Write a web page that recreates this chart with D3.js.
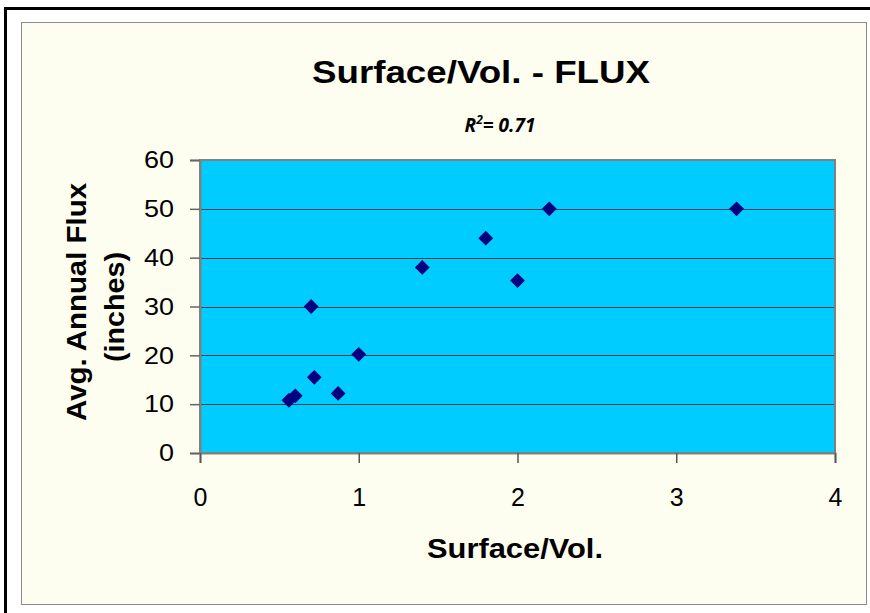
<!DOCTYPE html>
<html><head><meta charset="utf-8">
<script src="https://cdn.jsdelivr.net/npm/d3@7"></script>
<style>html,body{margin:0;padding:0;background:#fff;}svg{display:block;}</style>
</head><body>
<svg id="c" width="870" height="613"></svg>
<script>
const xValues = [0.56, 0.60, 0.70, 0.72, 0.87, 1.00, 1.40, 1.80, 2.00, 2.20, 3.38];
const yValues = [10.8, 11.7, 30.0, 15.5, 12.2, 20.2, 38.0, 44.0, 35.3, 50.0, 50.0];
const xTicks = [0, 1, 2, 3, 4];
const yTicks = [0, 10, 20, 30, 40, 50, 60];
const title = "Surface/Vol. - FLUX";
const xTitle = "Surface/Vol.";
const yTitle = ["Avg. Annual Flux", "(inches)"];

const FONT = "Liberation Sans, Arial, sans-serif";
const svg = d3.select("#c");
// outer frame
svg.append("rect").attr("x", 5.5).attr("y", 8.5).attr("width", 880).attr("height", 620)
  .attr("fill", "#fff").attr("stroke", "#000").attr("stroke-width", 3);
// chart area
svg.append("rect").attr("x", 21.5).attr("y", 22.5).attr("width", 845).attr("height", 582)
  .attr("fill", "#FEFEF0").attr("stroke", "#8a8a8a").attr("stroke-width", 1);

const L = 200, R = 835, T = 160, B = 453;
const x = d3.scaleLinear().domain([0, 4]).range([L, R]);
const y = d3.scaleLinear().domain([0, 60]).range([B, T]);

svg.append("rect").attr("x", L).attr("y", T).attr("width", R - L).attr("height", B - T)
  .attr("fill", "#00CCFF");
// gridlines
svg.append("g").selectAll("line").data(yTicks.filter(d => d > 0 && d < 60)).join("line")
  .attr("x1", L).attr("x2", R).attr("y1", d => Math.round(y(d)) + 0.5).attr("y2", d => Math.round(y(d)) + 0.5)
  .attr("stroke", "#15404f").attr("stroke-width", 1.2);
// plot border
svg.append("rect").attr("x", L).attr("y", T).attr("width", R - L).attr("height", B - T)
  .attr("fill", "none").attr("stroke", "#808080").attr("stroke-width", 2);

// y axis
const yAxis = d3.axisLeft(y).tickValues(yTicks).tickSize(10).tickPadding(16).tickFormat(d3.format("d"));
const gy = svg.append("g").attr("transform", `translate(${L},0)`).call(yAxis);
gy.select(".domain").attr("stroke", "#808080").attr("stroke-width", 2);
gy.selectAll(".tick line").attr("stroke", "#666").attr("stroke-width", 1.5);
gy.selectAll("text").attr("font-family", FONT).attr("font-size", 24).attr("fill", "#000")
  .attr("textLength", d => String(d).length * 15).attr("lengthAdjust", "spacingAndGlyphs");

// x axis
const xAxis = d3.axisBottom(x).tickValues(xTicks).tickSize(10).tickPadding(25).tickFormat(d3.format("d"));
const gx = svg.append("g").attr("transform", `translate(0,${B})`).call(xAxis);
gx.select(".domain").attr("stroke", "#808080").attr("stroke-width", 2);
gx.selectAll(".tick line").attr("stroke", "#555").attr("stroke-width", 1.5);
gx.selectAll("text").attr("font-family", FONT).attr("font-size", 25).attr("fill", "#000");

// points
const pts = xValues.map((v, i) => ({x: v, y: yValues[i]}));
const diamond = d3.symbol().type(d3.symbolSquare).size(110);
svg.append("g").selectAll("path").data(pts).join("path")
  .attr("d", diamond)
  .attr("transform", d => `translate(${x(d.x)},${y(d.y)}) rotate(45)`)
  .attr("fill", "#000080");

// titles
svg.append("text").attr("x", 481).attr("y", 83).attr("text-anchor", "middle")
  .attr("font-family", FONT).attr("font-weight", "bold").attr("font-size", 32)
  .attr("textLength", 338).attr("lengthAdjust", "spacingAndGlyphs")
  .text(title);
const r2 = svg.append("text").attr("x", 500).attr("y", 132).attr("text-anchor", "middle")
  .attr("font-family", "Open Sans, sans-serif").attr("font-weight", "bold").attr("font-style", "italic").attr("font-size", 19);
r2.append("tspan").text("R");
r2.append("tspan").attr("dy", -8).attr("font-size", 12).text("2");
r2.append("tspan").attr("dy", 8).text("= 0.71");

svg.append("text").attr("x", 515).attr("y", 558).attr("text-anchor", "middle")
  .attr("font-family", FONT).attr("font-weight", "bold").attr("font-size", 28)
  .attr("textLength", 176).attr("lengthAdjust", "spacingAndGlyphs")
  .text(xTitle);
const yt = svg.append("text").attr("transform", "translate(86,302) rotate(-90)").attr("text-anchor", "middle")
  .attr("font-family", FONT).attr("font-weight", "bold").attr("font-size", 28);
yt.selectAll("tspan").data(yTitle).join("tspan").attr("x", 0).attr("dy", (d, i) => i === 0 ? 0 : 38)
  .attr("dx", (d, i) => i === 0 ? 0 : -5)
  .attr("textLength", (d, i) => i === 0 ? 238 : 110).attr("lengthAdjust", "spacingAndGlyphs")
  .text(d => d);
</script>
</body></html>
